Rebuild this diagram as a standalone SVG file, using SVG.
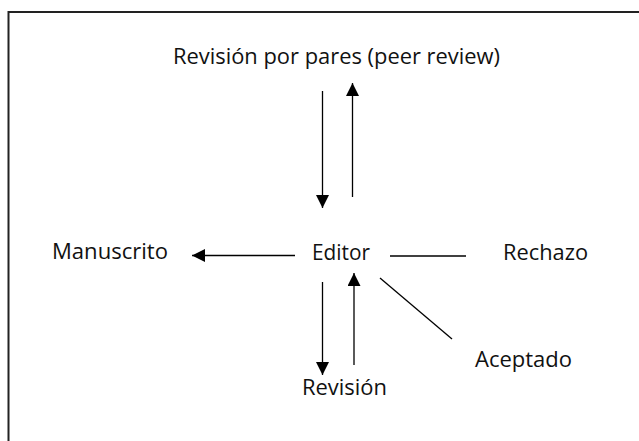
<svg xmlns="http://www.w3.org/2000/svg" width="639" height="441" viewBox="0 0 639 441">
  <defs>
    <marker id="ah" markerUnits="userSpaceOnUse" markerWidth="14" markerHeight="13" refX="13" refY="6.5" orient="auto">
      <path d="M0,0 L13,6.5 L0,13 Z" fill="#000"/>
    </marker>
    <style>
      .lbl { font-family: "Open Sans", "Liberation Sans", sans-serif; font-size: 22px; fill: #111; }
      .ln { stroke: #000; stroke-width: 1.3; fill: none; }
      .arr { stroke: #000; stroke-width: 1.3; fill: none; marker-end: url(#ah); }
      .frame { stroke: #222; stroke-width: 2; fill: none; }
    </style>
  </defs>
  <rect width="639" height="441" fill="#fff"/>
  <path class="frame" d="M8.5,441 L8.5,12 L639,12"/>

  <g id="peer-review"><text class="lbl" x="173" y="64" textLength="327" lengthAdjust="spacingAndGlyphs">Revisión por pares (peer review)</text></g>
  <g id="manuscrito"><text class="lbl" x="52" y="259" textLength="116" lengthAdjust="spacingAndGlyphs">Manuscrito</text></g>
  <g id="editor"><text class="lbl" x="312" y="260" textLength="58" lengthAdjust="spacingAndGlyphs">Editor</text></g>
  <g id="rechazo"><text class="lbl" x="503" y="260" textLength="85" lengthAdjust="spacingAndGlyphs">Rechazo</text></g>
  <g id="aceptado"><text class="lbl" x="475" y="367" textLength="97" lengthAdjust="spacingAndGlyphs">Aceptado</text></g>
  <g id="revision"><text class="lbl" x="302" y="395" textLength="85" lengthAdjust="spacingAndGlyphs">Revisión</text></g>

  <g id="connectors">
    <line class="arr" x1="322.5" y1="91" x2="322.5" y2="208"/>
    <line class="arr" x1="352.5" y1="197" x2="352.5" y2="83"/>
    <line class="arr" x1="295" y1="255.5" x2="192" y2="255.5"/>
    <line class="ln" x1="390" y1="256" x2="466" y2="256"/>
    <line class="ln" x1="380" y1="278" x2="452" y2="339"/>
    <line class="arr" x1="322.5" y1="282" x2="322.5" y2="375"/>
    <line class="arr" x1="354" y1="365" x2="354" y2="273"/>
  </g>
</svg>
